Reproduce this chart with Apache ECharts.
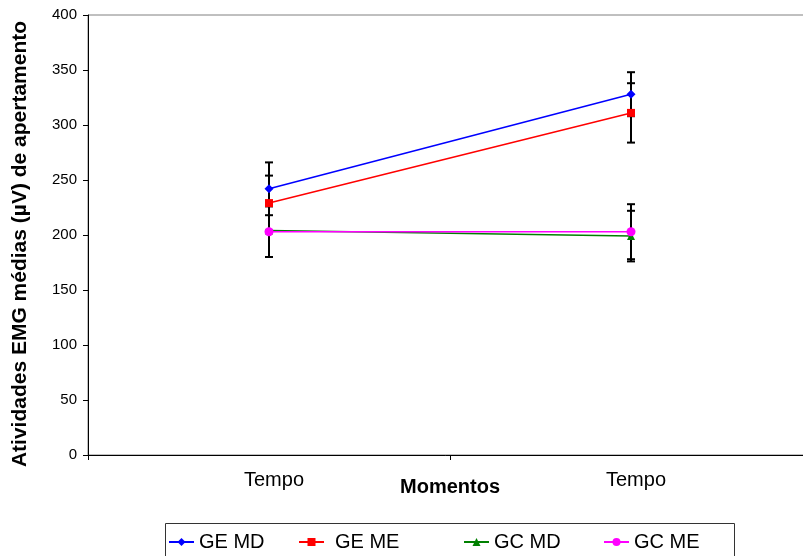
<!DOCTYPE html>
<html>
<head>
<meta charset="utf-8">
<script src="https://cdn.jsdelivr.net/npm/echarts@6/dist/echarts.min.js"></script>
<style>
  html, body { margin: 0; padding: 0; background: #fff; }
  #chart { width: 803px; height: 556px; }
</style>
</head>
<body>
<div id="chart"></div>
<script>
// Mean EMG clenching activity (µV) per group/side at two moments, with error bars
const categories = ['Tempo', 'Tempo'];
const seriesNames = ['GE MD', 'GE ME', 'GC MD', 'GC ME'];

const geMd = [242, 328];
const geMe = [229, 311];
const gcMd = [204, 199];
const gcMe = [203, 203];

const geMdErr = [24, 20];
const geMeErr = [25, 27];
const gcMdErr = [24, 23];
const gcMeErr = [23, 25];

const yTickValues = [0, 50, 100, 150, 200, 250, 300, 350, 400];

const FONT = '"Liberation Sans", Arial, sans-serif';

const means = [geMd, geMe, gcMd, gcMe];
const errs = [geMdErr, geMeErr, gcMdErr, gcMeErr];
const colors = ['#0000FF', '#FF0000', '#008000', '#FF00FF'];
const symbols = ['diamond', 'rect', 'triangle', 'circle'];
const symbolSizes = [9, 8, 8, 9];

// [category index, low, high] for every error bar
const errorBarData = [];
means.forEach((vals, s) => {
  vals.forEach((v, i) => {
    errorBarData.push([i, v - errs[s][i], v + errs[s][i]]);
  });
});

function renderErrorBar(params, api) {
  const idx = api.value(0);
  const lo = api.coord([idx, api.value(1)]);
  const hi = api.coord([idx, api.value(2)]);
  const half = 4;
  const style = { stroke: '#000', lineWidth: 2 };
  return {
    type: 'group',
    children: [
      { type: 'line', shape: { x1: lo[0], y1: lo[1], x2: hi[0], y2: hi[1] }, style },
      { type: 'line', shape: { x1: lo[0] - half, y1: lo[1], x2: lo[0] + half, y2: lo[1] }, style },
      { type: 'line', shape: { x1: hi[0] - half, y1: hi[1], x2: hi[0] + half, y2: hi[1] }, style }
    ]
  };
}

const lineSeries = seriesNames.map((name, s) => ({
  name,
  type: 'line',
  data: means[s],
  color: colors[s],
  symbol: symbols[s],
  symbolSize: symbolSizes[s],
  showAllSymbol: true,
  lineStyle: { width: 1.5, color: colors[s] },
  itemStyle: { color: colors[s] },
  z: 3,
  animation: false
}));

const legendLeft = [163, 293, 458, 598];
const legends = seriesNames.map((name, i) => ({
  data: [name],
  left: legendLeft[i],
  top: 527,
  itemWidth: 25,
  itemHeight: 10,
  selectedMode: false,
  textStyle: {
    fontFamily: FONT,
    fontSize: 20,
    color: '#000',
    padding: i === 1 ? [0, 0, 0, 6] : 0
  }
}));

const chart = echarts.init(document.getElementById('chart'), null, { renderer: 'canvas' });
chart.setOption({
  animation: false,
  backgroundColor: '#fff',
  textStyle: { fontFamily: FONT },
  grid: {
    left: 88, width: 724, top: 15, height: 440,
    containLabel: false,
    outerBoundsMode: 'none',
    show: true, borderColor: '#808080', borderWidth: 1, backgroundColor: 'transparent'
  },
  legend: legends,
  graphic: [{
    type: 'rect',
    left: 163, top: 521,
    shape: { width: 569, height: 40 },
    style: { fill: 'none', stroke: '#333', lineWidth: 1 },
    silent: true,
    z: -1
  }],
  xAxis: {
    type: 'category',
    data: categories,
    boundaryGap: true,
    name: 'Momentos',
    nameLocation: 'middle',
    nameGap: 22,
    nameMoveOverlap: false,
    nameTextStyle: { fontFamily: FONT, fontSize: 20, fontWeight: 'bold', color: '#000' },
    axisLine: { show: true, lineStyle: { color: '#000', width: 1 } },
    axisTick: { show: true, inside: false, length: 5, lineStyle: { color: '#000' } },
    axisLabel: { fontFamily: FONT, fontSize: 20, color: '#000', margin: 15, padding: [0, 0, 0, 10] },
    splitLine: { show: false }
  },
  yAxis: {
    type: 'value',
    min: yTickValues[0],
    max: yTickValues[yTickValues.length - 1],
    interval: yTickValues[1] - yTickValues[0],
    name: 'Atividades EMG médias (µV) de apertamento',
    nameLocation: 'middle',
    nameGap: 57,
    nameMoveOverlap: false,
    nameTextStyle: { fontFamily: FONT, fontSize: 21, fontWeight: 'bold', color: '#000', padding: [0, 18, 0, 0] },
    axisLine: { show: true, lineStyle: { color: '#000', width: 1 } },
    axisTick: { show: true, inside: false, length: 5, lineStyle: { color: '#000' } },
    axisLabel: { fontFamily: FONT, fontSize: 15, color: '#000', margin: 11 },
    splitLine: { show: false }
  },
  series: [
    {
      name: 'errorBars',
      type: 'custom',
      renderItem: renderErrorBar,
      data: errorBarData,
      encode: { x: 0, y: [1, 2] },
      z: 2,
      silent: true,
      animation: false
    },
    ...lineSeries
  ]
});
</script>
</body>
</html>
